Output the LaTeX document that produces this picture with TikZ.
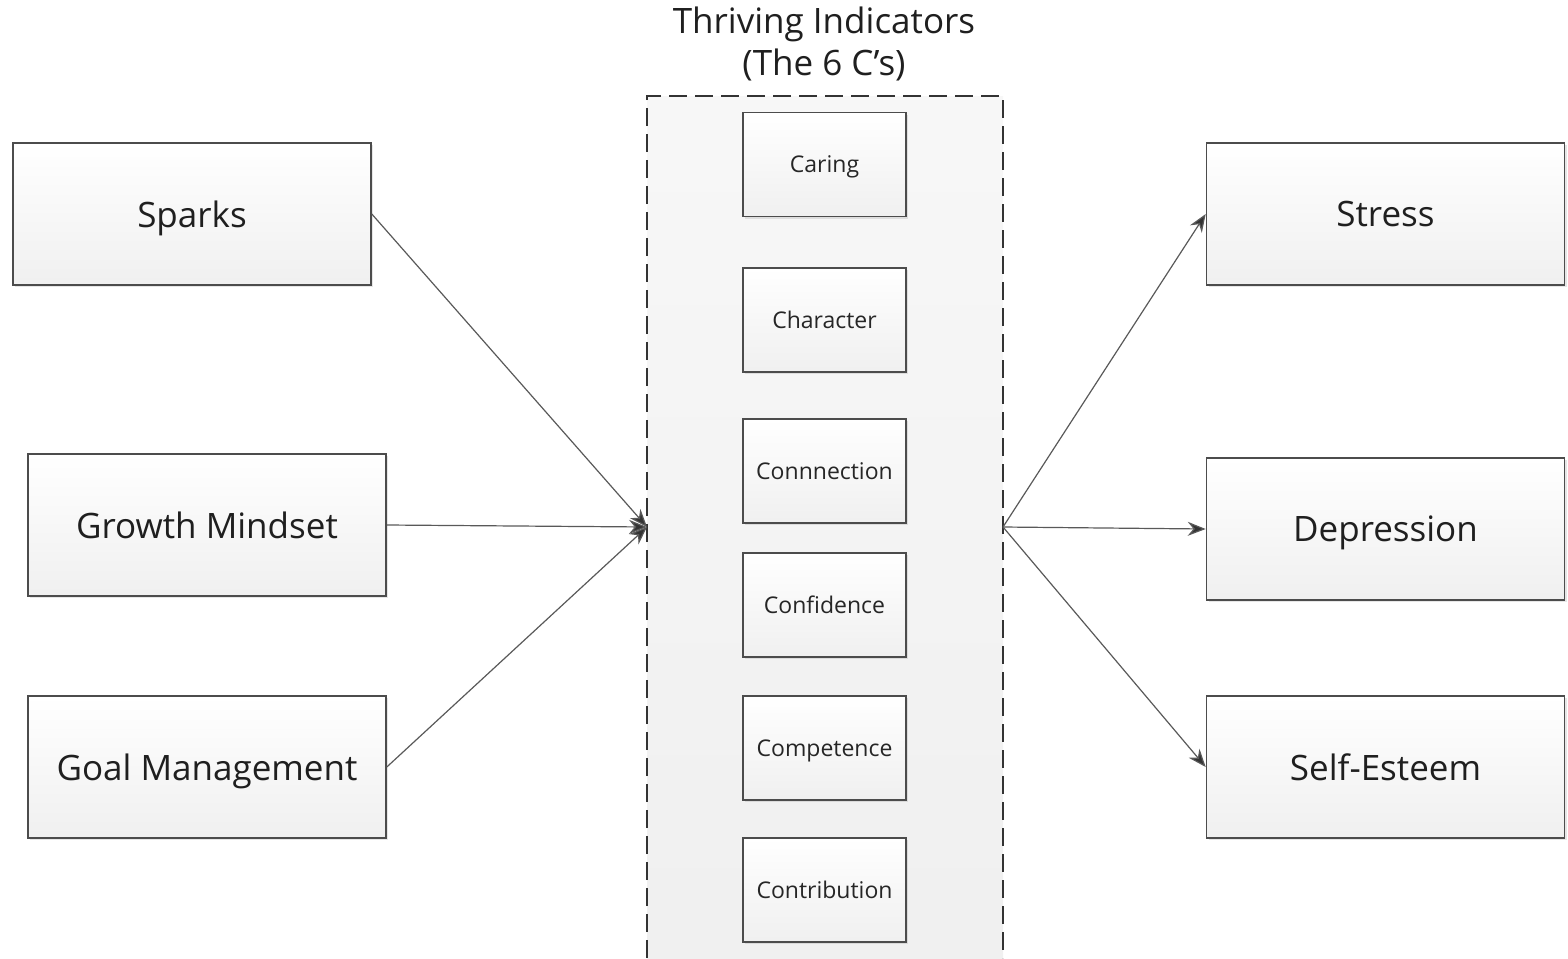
\documentclass[tikz,border=0pt]{standalone}
\usepackage{fontspec}
\setmainfont{Open Sans}
\usetikzlibrary{arrows.meta,shadows}
\begin{document}
\begin{tikzpicture}[x=0.5pt,y=-0.5pt,
  bigbox/.style={draw=black!70, line width=0.8pt, top color=white, bottom color=black!6,
    drop shadow={shadow xshift=1pt, shadow yshift=-1pt, opacity=0.2},
    minimum width=179pt, minimum height=71pt, inner sep=0pt, text depth=0pt,
    font=\fontsize{17.5}{20}\selectfont, text=black!88},
  cbox/.style={draw=black!70, line width=0.8pt, top color=white, bottom color=black!6,
    drop shadow={shadow xshift=1pt, shadow yshift=-1pt, opacity=0.2},
    minimum width=81.5pt, minimum height=52pt, inner sep=0pt, text depth=0pt,
    font=\fontsize{11.5}{13}\selectfont, text=black!85},
  conn/.style={draw=black!65, line width=0.6pt, -{Stealth[length=9pt,width=7pt,fill=black!80]}}]
\useasboundingbox (0,0) rectangle (1568,958);

% dashed container for the six indicators
\path[top color=black!3, bottom color=black!6] (647,96) rectangle (1003,958);
\draw[black!80, line width=0.8pt, dash pattern=on 9pt off 4pt] (647,958) -- (647,96) -- (1003,96) -- (1003,958);
\coordinate (cin) at (647,527);
\coordinate (cout) at (1003,527);

\node[align=center, font=\fontsize{17.5}{21}\selectfont, text=black!88] (title) at (824,44) {Thriving Indicators\\(The 6 C’s)};

% the six C's
\node[cbox] (caring) at (824.5,164.5) {Caring};
\node[cbox] (character) at (824.5,320) {Character};
\node[cbox] (connection) at (824.5,471) {Connnection};
\node[cbox] (confidence) at (824.5,605) {Confidence};
\node[cbox] (competence) at (824.5,748) {Competence};
\node[cbox] (contribution) at (824.5,890) {Contribution};

% predictors
\node[bigbox] (sparks) at (192,214) {Sparks};
\node[bigbox] (growth) at (207,525) {Growth Mindset};
\node[bigbox] (goal) at (207,767) {Goal Management};

% outcomes
\node[bigbox] (stress) at (1385.5,214) {Stress};
\node[bigbox] (depression) at (1385.5,529) {Depression};
\node[bigbox] (selfesteem) at (1385.5,767) {Self-Esteem};

% connectors
\draw[conn] (sparks.east) -- (cin);
\draw[conn] (growth.east) -- (cin);
\draw[conn] (goal.east) -- (cin);
\draw[conn] (cout) -- (stress.west);
\draw[conn] (cout) -- (depression.west);
\draw[conn] (cout) -- (selfesteem.west);
\end{tikzpicture}
\end{document}
